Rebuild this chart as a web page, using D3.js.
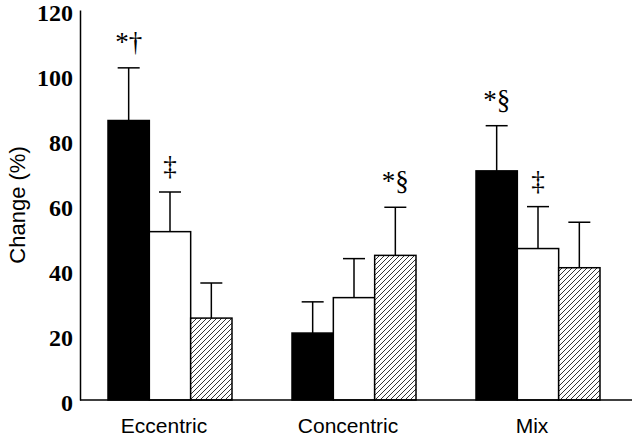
<!DOCTYPE html>
<html><head><meta charset="utf-8">
<script src="https://cdn.jsdelivr.net/npm/d3@7"></script>
<style>body{margin:0;background:#fff}svg{display:block}</style>
</head><body><svg id="c" width="635" height="439"></svg>
<script>
const categories = ["Eccentric", "Concentric", "Mix"];
const seriesNames = ["solid", "open", "hatched"];
const solidValues = [86, 20.6, 70.5];
const openValues = [51.8, 31.5, 46.6];
const hatchedValues = [25.2, 44.5, 40.7];
const solidSD = [16.2, 9.6, 13.9];
const openSD = [12.2, 12.0, 12.9];
const hatchedSD = [10.8, 14.8, 14.0];
const yTicks = [0, 20, 40, 60, 80, 100, 120];
const annotations = [
  {cat: "Eccentric", series: "solid", text: "*†"},
  {cat: "Eccentric", series: "open", text: "‡"},
  {cat: "Concentric", series: "hatched", text: "*§"},
  {cat: "Mix", series: "solid", text: "*§"},
  {cat: "Mix", series: "open", text: "‡"}
];

const values = {solid: solidValues, open: openValues, hatched: hatchedValues};
const sds = {solid: solidSD, open: openSD, hatched: hatchedSD};
const rows = [];
categories.forEach((c, i) => seriesNames.forEach(s => rows.push({cat: c, series: s, v: values[s][i], sd: sds[s][i]})));

const svg = d3.select("#c");
const defs = svg.append("defs");
const pat = defs.append("pattern").attr("id", "hatch").attr("patternUnits", "userSpaceOnUse")
  .attr("width", 5).attr("height", 5);
pat.append("rect").attr("width", 5).attr("height", 5).attr("fill", "#fff");
pat.append("path").attr("d", "M-1,1 l2,-2 M0,5 l5,-5 M4,6 l2,-2").attr("stroke", "#000").attr("stroke-width", 0.8);

const x = d3.scaleBand().domain(categories).range([78, 630]).padding(0);
const xi = d3.scaleBand().domain(seriesNames).range([-62, 62]);
const y = d3.scaleLinear().domain([0, 120]).range([400, 10]);
const fills = {solid: "#000", open: "#fff", hatched: "url(#hatch)"};
const cx = d => x(d.cat) + x.bandwidth() / 2 + xi(d.series);

// error bars
const eb = svg.append("g").attr("stroke", "#000").attr("stroke-width", 1.5);
rows.forEach(d => {
  const mx = cx(d) + xi.bandwidth() / 2;
  eb.append("line").attr("x1", mx).attr("x2", mx).attr("y1", y(d.v)).attr("y2", y(d.v + d.sd));
  eb.append("line").attr("x1", mx - 11).attr("x2", mx + 11).attr("y1", y(d.v + d.sd)).attr("y2", y(d.v + d.sd));
});

// bars
svg.append("g").selectAll("rect").data(rows).join("rect")
  .attr("x", d => cx(d)).attr("width", xi.bandwidth())
  .attr("y", d => y(d.v)).attr("height", d => y(0) - y(d.v))
  .attr("fill", d => fills[d.series]).attr("stroke", "#000").attr("stroke-width", 1.5);

// axes
const ya = svg.append("g").attr("transform", "translate(80,0)")
  .call(d3.axisLeft(y).tickValues(yTicks).tickSize(0).tickPadding(7));
ya.select(".domain").attr("stroke", "#000").attr("stroke-width", 1.5);
ya.selectAll("text").attr("font-family", "Liberation Serif, serif").attr("font-weight", "bold")
  .attr("font-size", 24).attr("fill", "#000").attr("dy", "0.45em");

const xa = svg.append("g").attr("transform", "translate(0,400)")
  .call(d3.axisBottom(x).tickSize(0).tickPadding(0));
xa.select(".domain").attr("d", "M80,0H632").attr("stroke", "#000").attr("stroke-width", 1.5);
xa.selectAll("text").attr("font-family", "Liberation Sans, Arial, sans-serif")
  .attr("font-size", 21).attr("fill", "#000").attr("dy", "1.55em").attr("dx", -6);

svg.append("text").attr("transform", "translate(25,205) rotate(-90)")
  .attr("text-anchor", "middle").attr("font-family", "Liberation Sans, Arial, sans-serif")
  .attr("font-size", 22).text("Change (%)");

// annotations
svg.append("g").selectAll("text").data(annotations).join("text")
  .attr("x", a => { const d = rows.find(r => r.cat === a.cat && r.series === a.series); return cx(d) + xi.bandwidth() / 2; })
  .attr("y", a => { const d = rows.find(r => r.cat === a.cat && r.series === a.series); return y(d.v + d.sd) - 17; })
  .attr("text-anchor", "middle").attr("font-family", "Liberation Serif, serif")
  .attr("font-size", 27).text(a => a.text);
</script></body></html>
